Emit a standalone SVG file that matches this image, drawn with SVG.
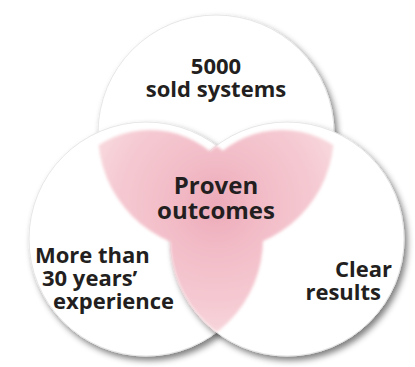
<svg xmlns="http://www.w3.org/2000/svg" width="415" height="367" viewBox="0 0 415 367">
  <style>
    .disc { fill: #ffffff; stroke: #e6e6e6; stroke-width: 1; }
    .lbl { font-family: "Open Sans", "Liberation Sans", sans-serif; font-weight: 700; fill: #231f20; }
    .s22 { font-size: 22px; }
    .s24 { font-size: 24px; }
    .m { fill: #ffffff; }
  </style>
  <defs>
    <filter id="shadow" x="-20%" y="-20%" width="140%" height="140%">
      <feGaussianBlur in="SourceAlpha" stdDeviation="3"/>
      <feOffset dx="3" dy="4" result="b"/>
      <feFlood flood-color="#000" flood-opacity="0.5"/>
      <feComposite in2="b" operator="in"/>
      <feMerge><feMergeNode/><feMergeNode in="SourceGraphic"/></feMerge>
    </filter>
    <filter id="soft" x="-10%" y="-10%" width="120%" height="120%">
      <feGaussianBlur stdDeviation="1.6"/>
    </filter>
    <clipPath id="clipTop"><circle cx="216" cy="133" r="118"/></clipPath>
    <clipPath id="clipL"><circle cx="146" cy="239" r="117"/></clipPath>
    <mask id="pinkMask" maskUnits="userSpaceOnUse" x="0" y="0" width="415" height="367">
      <g clip-path="url(#clipTop)">
        <circle class="m" cx="150" cy="225" r="95"/>
        <circle class="m" cx="282" cy="225" r="95"/>
      </g>
      <g clip-path="url(#clipL)">
        <circle class="m" cx="287" cy="239" r="117"/>
      </g>
    </mask>
    <radialGradient id="pinkGrad" cx="216" cy="205" r="135" gradientUnits="userSpaceOnUse">
      <stop offset="0" stop-color="#eeaab9"/>
      <stop offset="0.35" stop-color="#f2bcc7"/>
      <stop offset="0.75" stop-color="#f5cad2"/>
      <stop offset="1" stop-color="#f8dade"/>
    </radialGradient>
  </defs>

  <g id="node-top">
    <circle class="disc" cx="216" cy="133" r="118" filter="url(#shadow)"/>
  </g>
  <g id="node-left">
    <circle class="disc" cx="146" cy="239" r="117" filter="url(#shadow)"/>
  </g>
  <g id="node-right">
    <circle class="disc" cx="287" cy="239" r="117" filter="url(#shadow)"/>
  </g>

  <g id="node-center" filter="url(#soft)">
    <rect x="0" y="0" width="415" height="367" fill="url(#pinkGrad)" mask="url(#pinkMask)"/>
  </g>

  <g id="connectors"></g>

  <g id="labels">
    <text class="lbl s22" x="216" y="74" text-anchor="middle">5000</text>
    <text class="lbl s22" x="216" y="97" text-anchor="middle">sold systems</text>
    <text class="lbl s24" x="216" y="194" text-anchor="middle">Proven</text>
    <text class="lbl s24" x="216" y="219" text-anchor="middle">outcomes</text>
    <text class="lbl s22" x="35" y="263">More than</text>
    <text class="lbl s22" x="42" y="286">30 years’</text>
    <text class="lbl s22" x="53" y="309">experience</text>
    <text class="lbl s22" x="392" y="277" text-anchor="end">Clear</text>
    <text class="lbl s22" x="381" y="300" text-anchor="end">results</text>
  </g>
</svg>
